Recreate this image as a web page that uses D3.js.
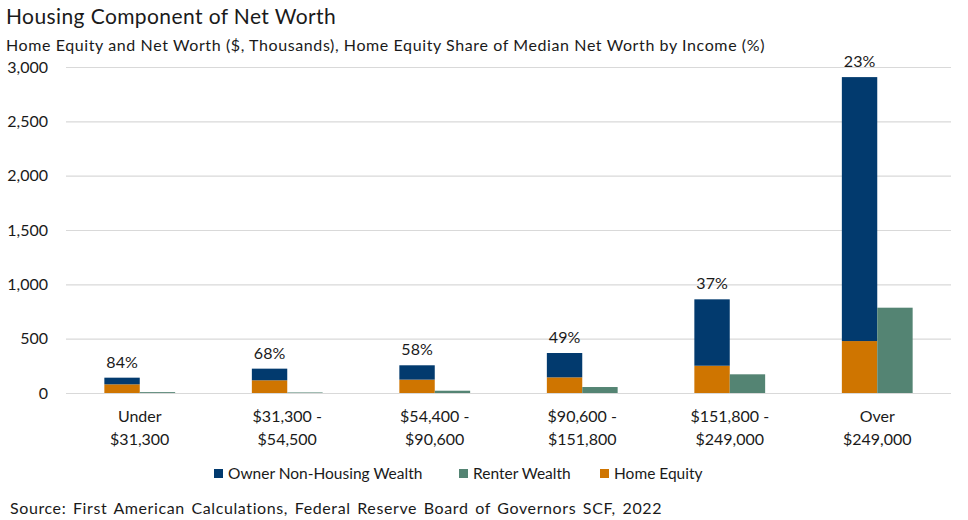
<!DOCTYPE html>
<html>
<head>
<meta charset="utf-8">
<script src="https://cdn.jsdelivr.net/npm/d3@7"></script>
<style>
  body { margin: 0; background: #fff; }
  text { font-family: Lato, "Noto Sans", sans-serif; fill: #1a1a1a; }
</style>
</head>
<body>
<div id="chart"></div>
<script>
// income groups (two-line labels)
const categories = [
  ['Under', '$31,300'],
  ['$31,300 -', '$54,500'],
  ['$54,400 -', '$90,600'],
  ['$90,600 -', '$151,800'],
  ['$151,800 -', '$249,000'],
  ['Over', '$249,000']
];
// $ thousands
const homeEquity     = [80, 117, 123, 144, 251, 478];
const ownerNonHousing = [61, 107, 132, 224, 611, 2429];
const renterWealth   = [8, 5, 21, 55, 172, 785];
// home equity share of median net worth
const equityShare = ['84%', '68%', '58%', '49%', '37%', '23%'];
const yTicks = [0, 500, 1000, 1500, 2000, 2500, 3000];

const W = 968, H = 520;
const margin = {top: 67, right: 17, bottom: 127, left: 66};
const colors = {owner: '#023a6e', renter: '#548473', equity: '#cf7500'};

const svg = d3.select('#chart').append('svg')
  .attr('width', W).attr('height', H);

const x0 = d3.scaleBand()
  .domain(d3.range(categories.length))
  .range([margin.left, W - margin.right])
  .paddingInner(0.52).paddingOuter(0.26);

const x1 = d3.scaleBand()
  .domain(['owner', 'renter'])
  .range([0, x0.bandwidth()]);

const y = d3.scaleLinear()
  .domain([0, 3000])
  .range([H - margin.bottom, margin.top]);

// gridlines + y labels
const yAxis = svg.append('g')
  .attr('transform', `translate(${margin.left},0)`)
  .call(d3.axisLeft(y).tickValues(yTicks).tickFormat(d3.format(','))
    .tickSize(-(W - margin.left - margin.right)).tickPadding(18));
yAxis.select('.domain').remove();
yAxis.selectAll('.tick line').attr('stroke', '#d9d9d9').attr('stroke-width', 1.2);
yAxis.selectAll('.tick text').style('font-size', '16px').attr('fill', '#1a1a1a');

const groups = svg.append('g').selectAll('g')
  .data(categories.map((c, i) => i))
  .join('g')
  .attr('transform', i => `translate(${x0(i)},0)`);

// home equity (bottom of owner stack)
groups.append('rect')
  .attr('x', x1('owner')).attr('width', x1.bandwidth())
  .attr('y', i => y(homeEquity[i]))
  .attr('height', i => y(0) - y(homeEquity[i]))
  .attr('fill', colors.equity);

// owner non-housing wealth on top
groups.append('rect')
  .attr('x', x1('owner')).attr('width', x1.bandwidth())
  .attr('y', i => y(homeEquity[i] + ownerNonHousing[i]))
  .attr('height', i => y(homeEquity[i]) - y(homeEquity[i] + ownerNonHousing[i]))
  .attr('fill', colors.owner);

// renters
groups.append('rect')
  .attr('x', x1('renter')).attr('width', x1.bandwidth())
  .attr('y', i => y(renterWealth[i]))
  .attr('height', i => y(0) - y(renterWealth[i]))
  .attr('fill', colors.renter);

// share labels
groups.append('text')
  .attr('x', x1('owner') + x1.bandwidth() / 2)
  .attr('y', i => y(homeEquity[i] + ownerNonHousing[i]) - 10)
  .attr('text-anchor', 'middle')
  .style('font-size', '16px')
  .text(i => equityShare[i]);

// category labels
groups.append('text')
  .attr('x', x0.bandwidth() / 2)
  .attr('y', y(0) + 29)
  .attr('text-anchor', 'middle')
  .style('font-size', '16px')
  .selectAll('tspan')
  .data(i => categories[i])
  .join('tspan')
  .attr('x', x0.bandwidth() / 2)
  .attr('dy', (d, j) => j ? 23 : 0)
  .text(d => d);

// legend
const legendItems = [
  {label: 'Owner Non-Housing Wealth', color: colors.owner, x: 214},
  {label: 'Renter Wealth', color: colors.renter, x: 459},
  {label: 'Home Equity', color: colors.equity, x: 600}
];
const legend = svg.append('g').selectAll('g')
  .data(legendItems).join('g')
  .attr('transform', d => `translate(${d.x},469)`);
legend.append('rect').attr('width', 9).attr('height', 9).attr('fill', d => d.color);
legend.append('text').attr('x', 14).attr('y', 10)
  .style('font-size', '15.5px').text(d => d.label);

// titles
svg.append('text').attr('x', 6).attr('y', 24)
  .style('font-size', '21px').style('letter-spacing', '0.4px')
  .text('Housing Component of Net Worth');
svg.append('text').attr('x', 6).attr('y', 51)
  .style('font-size', '16px').style('letter-spacing', '0.6px')
  .text('Home Equity and Net Worth ($, Thousands), Home Equity Share of Median Net Worth by Income (%)');
svg.append('text').attr('x', 10).attr('y', 514)
  .style('font-size', '16px').style('letter-spacing', '0.6px').style('word-spacing', '2px')
  .text('Source: First American Calculations, Federal Reserve Board of Governors SCF, 2022');
</script>
</body>
</html>
